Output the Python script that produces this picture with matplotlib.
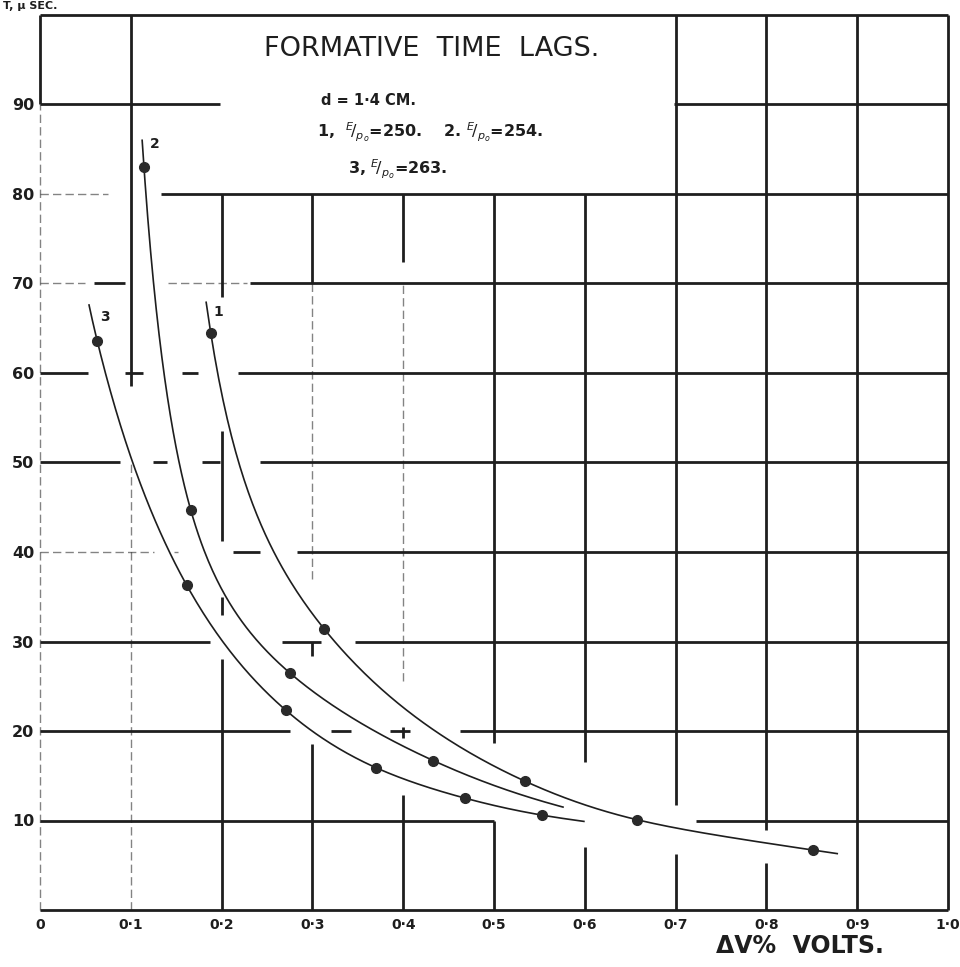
import numpy as np
import matplotlib.pyplot as plt

# formative time lags (micro-sec) against overvoltage, d = 1.4 cm
x1 = [0.188, 0.313, 0.534, 0.657, 0.851]
t1 = [64.5, 31.4, 14.4, 10.1, 6.7]
x2 = [0.1145, 0.166, 0.275, 0.433]
t2 = [83.0, 44.7, 26.5, 16.7]
x3 = [0.063, 0.1615, 0.271, 0.370, 0.468, 0.553]
t3 = [63.6, 36.3, 22.3, 15.9, 12.5, 10.6]
curve_names = ['1', '2', '3']
# where each drawn curve starts and stops (x, t)
curve_ends = [((0.183, 67.9), (0.878, 6.3)),
              ((0.1125, 86.0), (0.576, 11.5)),
              ((0.054, 67.6), (0.599, 9.9))]

xtick_vals = np.arange(0, 11) / 10
xtick_labels = ['0', '0·1', '0·2', '0·3', '0·4', '0·5', '0·6', '0·7', '0·8', '0·9', '1·0']
ytick_vals = np.arange(10, 100, 10)
ytick_labels = [str(v) for v in ytick_vals]

ink = '#1e1e1e'


def natural_spline(xk, yk, xx):
    # plain natural cubic spline, no scipy needed
    xk = np.asarray(xk, float)
    yk = np.asarray(yk, float)
    n = len(xk)
    h = np.diff(xk)
    A = np.zeros((n, n))
    r = np.zeros(n)
    A[0, 0] = A[-1, -1] = 1
    for i in range(1, n - 1):
        A[i, i - 1] = h[i - 1]
        A[i, i] = 2 * (h[i - 1] + h[i])
        A[i, i + 1] = h[i]
        r[i] = 3 * ((yk[i + 1] - yk[i]) / h[i] - (yk[i] - yk[i - 1]) / h[i - 1])
    c = np.linalg.solve(A, r)
    b = np.diff(yk) / h - h * (2 * c[:-1] + c[1:]) / 3
    d = np.diff(c) / (3 * h)
    i = np.clip(np.searchsorted(xk, xx) - 1, 0, n - 2)
    t = xx - xk[i]
    return yk[i] + b[i] * t + c[i] * t ** 2 + d[i] * t ** 3


fig = plt.figure(figsize=(9.6, 9.67), dpi=100)
ax = fig.add_axes([40 / 960, 57 / 967, 908 / 960, 895 / 967])
ax.set_xlim(0, 1.0)
ax.set_ylim(0, 100)
for s in ax.spines.values():
    s.set_visible(False)

# hand ruled grid, drawn in pieces with the breaks left by the lettering
h_solid = [
    (100, 0, 1.0), (90, 0, 0.198), (90, 0.698, 1.0), (80, 0.133, 1.0),
    (70, 0.06, 0.094), (70, 0.231, 1.0),
    (60, 0, 0.053), (60, 0.094, 0.113), (60, 0.156, 0.174), (60, 0.218, 1.0),
    (50, 0, 0.088), (50, 0.124, 0.14), (50, 0.178, 0.198), (50, 0.242, 1.0),
    (40, 0.213, 0.242), (40, 0.283, 1.0),
    (30, 0, 0.187), (30, 0.266, 0.31), (30, 0.347, 1.0),
    (20, 0, 0.275), (20, 0.32, 0.343), (20, 0.385, 0.407), (20, 0.463, 1.0),
    (10, 0, 0.5), (10, 0.722, 1.0), (0, 0, 1.0),
]
h_faint = [(80, 0, 0.075), (70, 0, 0.05), (70, 0.141, 0.228), (40, 0, 0.125), (40, 0.148, 0.152)]
v_solid = [
    (0, 90, 100), (0.1, 58.5, 100),
    (0.2, 68.5, 80), (0.2, 41.2, 53.5), (0.2, 33, 35), (0.2, 0, 28),
    (0.3, 70, 80), (0.3, 28.4, 30), (0.3, 0, 18.6),
    (0.4, 72.4, 80), (0.4, 19.2, 20.4), (0.4, 0, 12.8),
    (0.5, 18.7, 80), (0.5, 0, 10),
    (0.6, 16.5, 80), (0.6, 0, 7),
    (0.7, 11.7, 100), (0.7, 0, 6.3),
    (0.8, 8.9, 100), (0.8, 0, 5.2),
    (0.9, 0, 100), (1.0, 0, 100),
]
v_faint = [(0, 0, 90), (0.1, 0, 50), (0.3, 37, 70), (0.4, 25.6, 70)]

for y, a, b in h_solid:
    ax.plot([a, b], [y, y], color=ink, lw=2.0, solid_capstyle='butt', clip_on=False)
for y, a, b in h_faint:
    ax.plot([a, b], [y, y], color=ink, lw=1.0, ls=(0, (6, 3)), alpha=0.55, clip_on=False)
for x, a, b in v_solid:
    ax.plot([x, x], [a, b], color=ink, lw=2.0, solid_capstyle='butt', clip_on=False)
for x, a, b in v_faint:
    ax.plot([x, x], [a, b], color=ink, lw=1.0, ls=(0, (6, 3)), alpha=0.55, clip_on=False)

# smooth curves through the measured points, spline taken in log-log
for (xs, ts), (start, end) in zip([(x1, t1), (x2, t2), (x3, t3)], curve_ends):
    kx = np.log([start[0]] + xs + [end[0]])
    ky = np.log([start[1]] + ts + [end[1]])
    xx = np.linspace(start[0], end[0], 300)
    ax.plot(xx, np.exp(natural_spline(kx, ky, np.log(xx))), color=ink, lw=1.2, zorder=3)
    ax.plot(xs, ts, 'o', color='#2a2a2a', ms=7, zorder=4)

label_pos = [(0.196, 66.8), (0.126, 85.6), (0.072, 66.3)]
for name, (lx, ly) in zip(curve_names, label_pos):
    ax.text(lx, ly, name, fontsize=10, fontweight='bold', color=ink, ha='center', va='center')

ax.set_xticks(xtick_vals)
ax.set_xticklabels(xtick_labels, fontsize=10, fontweight='bold', color=ink)
ax.set_yticks(ytick_vals)
ax.set_yticklabels(ytick_labels, fontsize=11.5, fontweight='bold', color=ink)
ax.tick_params(length=0, pad=4)
ax.tick_params(axis='x', pad=6)

# heading and test conditions
ax.text(0.431, 96.2, 'FORMATIVE  TIME  LAGS.', fontsize=19.5, color=ink, ha='center', va='center')
ax.text(0.362, 90.4, 'd = 1·4 CM.', fontsize=10.5, fontweight='bold', color=ink, ha='center', va='center')
ax.text(0.430, 86.9, r'1,  $^{E}\!/_{p_o}$=250.    2. $^{E}\!/_{p_o}$=254.', fontsize=11.5,
        fontweight='bold', color=ink, ha='center', va='center')
ax.text(0.394, 82.7, r'3, $^{E}\!/_{p_o}$=263.', fontsize=11.5, fontweight='bold',
        color=ink, ha='center', va='center')

fig.text(800 / 960, 1 - 946 / 967, 'ΔV%  VOLTS.', fontsize=17, fontweight='bold',
         color=ink, ha='center', va='center')
fig.text(0.003, 0.999, 'T, μ SEC.', fontsize=8, fontweight='bold', color=ink,
         ha='left', va='top')

fig.savefig('out.png', dpi=100, facecolor='white')
